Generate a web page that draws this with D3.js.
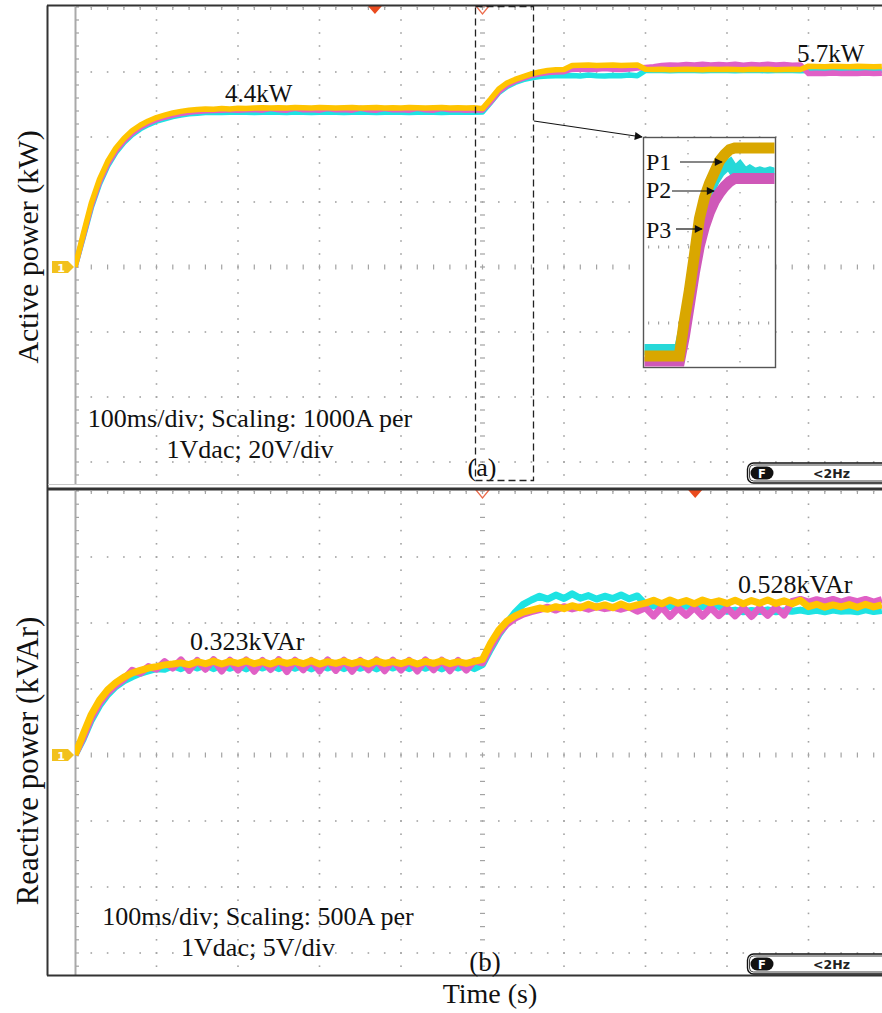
<!DOCTYPE html>
<html>
<head>
<meta charset="utf-8">
<script src="https://cdn.jsdelivr.net/npm/d3@7"></script>
<style>
  html, body { margin: 0; padding: 0; background: #fff; }
  svg { display: block; }
</style>
</head>
<body>
<svg id="chart" width="882" height="1013"></svg>
<script>
// ---- sample times (ms), 100 ms per division ----
const timeMs = [
  0,10,20,30,40,50,60,70,80,90,
  100,110,120,130,140,150,160,170,180,190,
  200,210,220,230,240,250,260,270,280,290,
  300,310,320,330,340,350,360,370,380,390,
  400,410,420,430,440,450,460,470,480,490,
  500,510,520,530,540,550,560,570,580,590,
  600,610,620,630,640,650,660,670,680,690,
  700,710,720,730,740,750,760,770,780,790,
  800,810,820,830,840,850,860,870,880,890,
  900,910,920,930,940,950,960,970,980,990
];

// ---- active power (kW) of the three units ----
const activeP1 = [
  -0.77,0.29,1.31,2.08,2.66,3.09,3.41,3.66,3.84,3.98,
  4.09,4.17,4.24,4.29,4.33,4.35,4.37,4.36,4.38,4.37,
  4.39,4.38,4.40,4.41,4.40,4.41,4.40,4.42,4.41,4.40,
  4.42,4.41,4.40,4.41,4.42,4.40,4.41,4.42,4.40,4.41,
  4.40,4.42,4.41,4.40,4.41,4.42,4.40,4.41,4.40,4.41,
  4.38,4.69,5.02,5.21,5.33,5.42,5.51,5.57,5.62,5.64,
  5.65,5.78,5.79,5.80,5.78,5.79,5.80,5.78,5.79,5.80,
  5.66,5.65,5.66,5.64,5.65,5.66,5.65,5.64,5.66,5.65,
  5.66,5.65,5.64,5.66,5.65,5.66,5.64,5.65,5.66,5.65,
  5.76,5.75,5.74,5.76,5.75,5.74,5.76,5.75,5.74,5.75
];
const activeP2 = [
  -0.77,0.18,1.16,1.93,2.51,2.95,3.28,3.53,3.72,3.86,
  3.97,4.05,4.12,4.17,4.21,4.23,4.25,4.26,4.25,4.26,
  4.27,4.26,4.25,4.26,4.27,4.26,4.25,4.27,4.26,4.25,
  4.26,4.27,4.26,4.25,4.26,4.27,4.26,4.25,4.26,4.27,
  4.26,4.25,4.26,4.27,4.26,4.25,4.26,4.27,4.26,4.26,
  4.27,4.58,4.90,5.10,5.23,5.32,5.38,5.42,5.44,5.45,
  5.45,5.46,5.44,5.47,5.45,5.44,5.46,5.45,5.47,5.45,
  5.62,5.63,5.62,5.61,5.62,5.63,5.62,5.61,5.62,5.63,
  5.62,5.61,5.62,5.63,5.62,5.61,5.62,5.63,5.62,5.61,
  5.62,5.63,5.62,5.61,5.62,5.63,5.62,5.61,5.62,5.63
];
const activeP3 = [
  -0.77,0.22,1.22,1.99,2.57,3.00,3.33,3.58,3.77,3.91,
  4.02,4.10,4.17,4.22,4.26,4.29,4.31,4.32,4.33,4.34,
  4.33,4.34,4.35,4.33,4.38,4.34,4.33,4.39,4.34,4.35,
  4.33,4.38,4.34,4.35,4.33,4.39,4.34,4.33,4.38,4.34,
  4.35,4.33,4.39,4.34,4.33,4.38,4.34,4.35,4.33,4.34,
  4.33,4.60,4.93,5.14,5.27,5.37,5.45,5.51,5.55,5.57,
  5.58,5.66,5.67,5.65,5.66,5.68,5.66,5.65,5.67,5.70,
  5.72,5.74,5.78,5.80,5.79,5.81,5.80,5.82,5.80,5.81,
  5.80,5.82,5.79,5.81,5.80,5.82,5.80,5.81,5.79,5.80,
  5.52,5.53,5.52,5.54,5.52,5.53,5.52,5.54,5.52,5.53
];

// ---- reactive power (kVAr) of the three units ----
const reactiveP1 = [
  0.000,0.072,0.140,0.189,0.225,0.250,0.269,0.283,0.292,0.300,
  0.305,0.311,0.314,0.318,0.312,0.322,0.315,0.324,0.314,0.323,
  0.316,0.325,0.315,0.322,0.314,0.324,0.316,0.323,0.315,0.325,
  0.314,0.322,0.316,0.324,0.315,0.323,0.314,0.325,0.316,0.322,
  0.315,0.324,0.314,0.323,0.316,0.325,0.315,0.322,0.316,0.323,
  0.330,0.386,0.431,0.462,0.480,0.493,0.500,0.507,0.503,0.512,
  0.505,0.515,0.508,0.520,0.510,0.518,0.508,0.521,0.510,0.518,
  0.524,0.534,0.522,0.535,0.524,0.533,0.522,0.535,0.525,0.532,
  0.523,0.534,0.522,0.533,0.524,0.535,0.523,0.532,0.522,0.534,
  0.512,0.520,0.510,0.518,0.511,0.519,0.510,0.520,0.511,0.518
];
const reactiveP2 = [
  0.000,0.055,0.120,0.170,0.208,0.236,0.256,0.270,0.282,0.290,
  0.298,0.296,0.308,0.298,0.312,0.300,0.311,0.298,0.312,0.299,
  0.310,0.297,0.312,0.300,0.311,0.298,0.312,0.299,0.310,0.297,
  0.312,0.300,0.311,0.298,0.312,0.299,0.310,0.297,0.312,0.300,
  0.311,0.298,0.312,0.299,0.310,0.297,0.312,0.300,0.311,0.298,
  0.312,0.365,0.415,0.455,0.492,0.520,0.535,0.548,0.538,0.552,
  0.540,0.556,0.541,0.550,0.538,0.548,0.540,0.552,0.539,0.549,
  0.520,0.514,0.518,0.512,0.517,0.513,0.519,0.512,0.516,0.514,
  0.496,0.500,0.494,0.499,0.495,0.501,0.494,0.498,0.496,0.500,
  0.495,0.499,0.494,0.500,0.496,0.498,0.494,0.501,0.495,0.499
];
const reactiveP3 = [
  0.000,0.060,0.128,0.178,0.215,0.241,0.262,0.292,0.282,0.305,
  0.296,0.322,0.300,0.328,0.292,0.326,0.296,0.329,0.290,0.327,
  0.293,0.328,0.289,0.326,0.295,0.329,0.288,0.327,0.294,0.326,
  0.290,0.328,0.292,0.327,0.289,0.326,0.294,0.328,0.291,0.327,
  0.293,0.326,0.290,0.328,0.294,0.327,0.291,0.326,0.293,0.325,
  0.318,0.372,0.420,0.452,0.472,0.486,0.495,0.502,0.510,0.500,
  0.512,0.504,0.511,0.503,0.512,0.505,0.510,0.503,0.511,0.496,
  0.508,0.480,0.510,0.478,0.507,0.482,0.509,0.479,0.508,0.481,
  0.507,0.480,0.509,0.478,0.508,0.482,0.510,0.483,0.530,0.537,
  0.528,0.536,0.529,0.537,0.528,0.536,0.529,0.537,0.528,0.536
];

// ---- magnified view of the active power step ----
const insetMs = [470,475,480,485,490,495,500,505,510,515,520,525,530,535,540,545,550,555,560,565,570,575,580,585,590,595,600];
const insetP1 = [4.40,4.40,4.40,4.40,4.40,4.40,4.40,4.40,4.62,4.81,5.03,5.26,5.39,5.48,5.55,5.62,5.66,5.69,5.70,5.70,5.70,5.70,5.70,5.70,5.70,5.70,5.70];
const insetP2 = [4.44,4.44,4.44,4.44,4.44,4.44,4.44,4.44,4.58,4.78,4.99,5.20,5.33,5.43,5.50,5.55,5.58,5.60,5.55,5.58,5.54,5.56,5.54,5.55,5.54,5.55,5.54];
const insetP3 = [4.36,4.36,4.36,4.36,4.36,4.36,4.36,4.36,4.52,4.72,4.92,5.09,5.21,5.30,5.37,5.42,5.46,5.49,5.51,5.51,5.51,5.51,5.51,5.51,5.51,5.51,5.51];

// ---- annotations ----
const activeLevels = [4.4, 5.7];
const reactiveLevels = [0.323, 0.528];
const unitNames = ["P1", "P2", "P3"];
const triggerMs = [368, 761];

// ---- drawing ----
const svg = d3.select("#chart");
const W = 882;
const serif = "'Liberation Serif','Times New Roman',serif";
const colors = { P1: "#FFC400", P2: "#1EE3E3", P3: "#E060C6" };
const insetColors = { P1: "#D9A700", P2: "#27D8D8", P3: "#CF58B8" };

const x = d3.scaleLinear().domain([0, 1000]).range([75, 890]);

const panels = [
  { center: 267, divH: 65, top: 7, bottom: 484, frameTop: 5.5, frameBottom: 489,
    y: d3.scaleLinear().domain(activeLevels).range([108, 68]),
    series: { P1: activeP1, P2: activeP2, P3: activeP3 }, width: 5.5 },
  { center: 755, divH: 66, top: 491, bottom: 975, frameTop: 489, frameBottom: 975.5,
    y: d3.scaleLinear().domain([0, reactiveLevels[1]]).range([755, 602]),
    series: { P1: reactiveP1, P2: reactiveP2, P3: reactiveP3 }, width: 7 }
];

const dotColor = "#a3a3a3";

panels.forEach((p, i) => {
  const g = svg.append("g");
  const clipId = "clip" + i;
  svg.append("clipPath").attr("id", clipId).append("rect")
    .attr("x", 75).attr("y", p.top).attr("width", W - 75).attr("height", p.bottom - p.top);
  const div = d3.scaleLinear().domain([-4, 4]).range([p.center + 4 * p.divH, p.center - 4 * p.divH]);
  const inside = v => v >= p.top - 0.5 && v <= p.bottom + 0.5;
  const minorDiv = d3.range(-4, 4.001, 0.2).map(d => div(d)).filter(inside);
  const minorT = d3.range(0, 1001, 20).map(t => x(t)).filter(v => v > 76 && v < W);

  const grid = g.append("g").attr("clip-path", `url(#${clipId})`);
  // vertical graticule lines
  d3.range(100, 1000, 100).forEach(t => {
    const xv = x(t);
    if (t === 500) {
      grid.selectAll(null).data(minorDiv).join("rect")
        .attr("x", xv - 2.5).attr("y", d => d - 0.6).attr("width", 5).attr("height", 1.2)
        .attr("fill", dotColor);
    } else {
      grid.selectAll(null).data(minorDiv).join("rect")
        .attr("x", xv - 0.8).attr("y", d => d - 0.8).attr("width", 1.6).attr("height", 1.6)
        .attr("fill", dotColor);
    }
  });
  // horizontal graticule rows
  d3.range(-4, 5).forEach(d => {
    const yv = div(d);
    if (!inside(yv)) return;
    if (d === 0) {
      grid.selectAll(null).data(minorT).join("rect")
        .attr("x", v => v - 0.6).attr("y", yv - 2.5).attr("width", 1.2).attr("height", 5)
        .attr("fill", dotColor);
    } else {
      grid.selectAll(null).data(minorT).join("rect")
        .attr("x", v => v - 0.8).attr("y", yv - 0.8).attr("width", 1.6).attr("height", 1.6)
        .attr("fill", dotColor);
    }
  });
  // top edge ruler ticks
  grid.selectAll(null).data(minorT).join("rect")
    .attr("x", v => v - 0.6).attr("y", p.top).attr("width", 1.2).attr("height", 3)
    .attr("fill", dotColor);
  // left edge line with ticks
  g.append("line").attr("x1", 75.5).attr("x2", 75.5).attr("y1", p.top).attr("y2", p.bottom)
    .attr("stroke", "#a9a9a9").attr("stroke-width", 2);
  g.selectAll(null).data(minorDiv).join("rect")
    .attr("x", 76).attr("y", d => d - 0.6).attr("width", 3).attr("height", 1.2)
    .attr("fill", dotColor);

  // traces: P2 (cyan), P3 (magenta), then P1 (yellow) on top
  const tr = g.append("g").attr("clip-path", `url(#${clipId})`);
  ["P2", "P3", "P1"].forEach(k => {
    const vals = p.series[k];
    const line = d3.line().x((d, j) => x(timeMs[j])).y(d => p.y(d)).curve(d3.curveLinear);
    tr.append("path").datum(vals).attr("d", line)
      .attr("fill", "none").attr("stroke", colors[k]).attr("stroke-width", p.width)
      .attr("stroke-linejoin", "round");
  });

  // channel 1 ground marker
  const my = p.center;
  g.append("path")
    .attr("d", `M52,${my - 6} H68 L74,${my} L68,${my + 6} H52 Z`)
    .attr("fill", "#F2C11D");
  g.append("text").attr("x", 61).attr("y", my + 4.5).attr("text-anchor", "middle")
    .attr("font-family", "DejaVu Sans, sans-serif").attr("font-weight", "bold")
    .attr("font-size", 11).attr("fill", "#fff").text("1");

  // trigger position (open) and trigger point (filled) markers
  const ty = p.top - 1;
  g.append("path").attr("d", `M${x(500) - 6.5},${ty} L${x(500) + 6.5},${ty} L${x(500)},${ty + 8} Z`)
    .attr("fill", "none").attr("stroke", "#EC6A4A").attr("stroke-width", 1.2);
  const tx = x(triggerMs[i]);
  g.append("path").attr("d", `M${tx - 7},${ty} L${tx + 7},${ty} L${tx},${ty + 8} Z`)
    .attr("fill", "#EA4B1E");

  // filter readout box
  const by = p.bottom - 21;
  g.append("rect").attr("x", 747.5).attr("y", by).attr("width", 160).attr("height", 20).attr("rx", 6)
    .attr("fill", "#fff").attr("stroke", "#111").attr("stroke-width", 1.4);
  g.append("rect").attr("x", 749.5).attr("y", by + 2).attr("width", 160).attr("height", 16).attr("rx", 4)
    .attr("fill", "none").attr("stroke", "#111").attr("stroke-width", 0.8);
  g.append("rect").attr("x", 750.5).attr("y", by + 3.5).attr("width", 23).attr("height", 13).attr("rx", 6.5)
    .attr("fill", "#111");
  g.append("text").attr("x", 762).attr("y", by + 14.5).attr("text-anchor", "middle")
    .attr("font-family", "DejaVu Sans, sans-serif").attr("font-weight", "bold")
    .attr("font-size", 11.5).attr("fill", "#fff").text("F");
  g.append("text").attr("x", 813).attr("y", by + 15).attr("font-family", "DejaVu Sans, sans-serif")
    .attr("font-weight", "bold").attr("font-size", 12.5).attr("fill", "#222").text("<2Hz");

  // frame
  g.append("line").attr("x1", 47.5).attr("x2", 47.5).attr("y1", p.frameTop).attr("y2", p.frameBottom)
    .attr("stroke", "#333").attr("stroke-width", 2);
  g.append("line").attr("x1", 47).attr("x2", W).attr("y1", p.frameTop).attr("y2", p.frameTop)
    .attr("stroke", "#333").attr("stroke-width", i === 0 ? 2 : 3);
  g.append("line").attr("x1", 47).attr("x2", W).attr("y1", p.frameBottom).attr("y2", p.frameBottom)
    .attr("stroke", "#333").attr("stroke-width", 2);
});
// light lower edge of the upper graticule
svg.append("line").attr("x1", 48).attr("x2", W).attr("y1", 484.5).attr("y2", 484.5)
  .attr("stroke", "#c8c8c8").attr("stroke-width", 1);

// ---- text annotations ----
function label(txt, xx, yy, size, anchor) {
  return svg.append("text").attr("x", xx).attr("y", yy).attr("font-family", serif)
    .attr("font-size", size).attr("text-anchor", anchor || "start").attr("fill", "#111").text(txt);
}
label(activeLevels[0] + "kW", 225, 102, 25);
label(activeLevels[1] + "kW", 797, 62, 25);
label(reactiveLevels[0] + "kVAr", 190, 650, 26);
label(reactiveLevels[1] + "kVAr", 738, 593, 26);
label("100ms/div; Scaling: 1000A per", 250, 427, 26, "middle");
label("1Vdac; 20V/div", 250, 458, 26, "middle");
label("(a)", 482, 476, 26, "middle");
label("100ms/div; Scaling: 500A per", 258, 925, 26, "middle");
label("1Vdac; 5V/div", 258, 956, 26, "middle");
label("(b)", 485, 971, 27, "middle");
label("Time (s)", 490, 1003, 28, "middle");
svg.append("text").attr("transform", "translate(38,247) rotate(-90)")
  .attr("font-family", serif).attr("font-size", 30).attr("text-anchor", "middle").attr("fill", "#111")
  .text("Active power (kW)");
svg.append("text").attr("transform", "translate(38,761) rotate(-90)")
  .attr("font-family", serif).attr("font-size", 31).attr("text-anchor", "middle").attr("fill", "#111")
  .text("Reactive power (kVAr)");

// ---- zoom window around the active power step ----
svg.append("rect").attr("x", 475.5).attr("y", 6.5).attr("width", 58).attr("height", 474)
  .attr("fill", "none").attr("stroke", "#222").attr("stroke-width", 1.3).attr("stroke-dasharray", "7,4");

const defs = svg.append("defs");
defs.append("marker").attr("id", "arrow").attr("viewBox", "0 0 10 10").attr("refX", 9).attr("refY", 5)
  .attr("markerWidth", 10).attr("markerHeight", 8).attr("markerUnits", "userSpaceOnUse").attr("orient", "auto")
  .append("path").attr("d", "M0,0 L10,5 L0,10 Z").attr("fill", "#111");

svg.append("line").attr("x1", 534).attr("y1", 121).attr("x2", 642).attr("y2", 137)
  .attr("stroke", "#111").attr("stroke-width", 1.2).attr("marker-end", "url(#arrow)");

// inset panel
const ix = d3.scaleLinear().domain([470, 600]).range([644, 775]);
const iy = d3.scaleLinear().domain(activeLevels).range([356, 148]);
const inset = svg.append("g");
inset.append("rect").attr("x", 643.5).attr("y", 137.5).attr("width", 132).attr("height", 230)
  .attr("fill", "#fff").attr("stroke", "#555").attr("stroke-width", 1.4);
svg.append("clipPath").attr("id", "clipInset").append("rect")
  .attr("x", 644.5).attr("y", 138.5).attr("width", 130).attr("height", 228);
const ig = inset.append("g").attr("clip-path", "url(#clipInset)");
// inset graticule
[688, 740].forEach(xv => {
  ig.selectAll(null).data(d3.range(140, 368, 13)).join("rect")
    .attr("x", xv - 0.7).attr("y", d => d).attr("width", 1.4).attr("height", 1.4).attr("fill", dotColor);
});
[247, 323].forEach(yv => {
  ig.selectAll(null).data(d3.range(648, 775, 10)).join("rect")
    .attr("x", d => d).attr("y", yv - 1.5).attr("width", 1.2).attr("height", 3).attr("fill", dotColor);
});
const insetSeries = { P1: insetP1, P2: insetP2, P3: insetP3 };
["P2", "P3", "P1"].forEach(k => {
  const line = d3.line().x((d, j) => ix(insetMs[j])).y(d => iy(d)).curve(d3.curveLinear);
  ig.append("path").datum(insetSeries[k]).attr("d", line)
    .attr("fill", "none").attr("stroke", insetColors[k]).attr("stroke-width", 11)
    .attr("stroke-linejoin", "miter");
});
// unit labels with pointers
const pointerPos = [
  { tx: 646, ty: 170, x1: 680, y1: 162, x2: 722, y2: 162 },
  { tx: 646, ty: 198, x1: 672, y1: 191, x2: 714, y2: 191 },
  { tx: 646, ty: 238, x1: 676, y1: 229, x2: 702, y2: 229 }
];
unitNames.forEach((n, j) => {
  const pp = pointerPos[j];
  svg.append("text").attr("x", pp.tx).attr("y", pp.ty).attr("font-family", serif)
    .attr("font-size", 24).attr("fill", "#111").text(n);
  svg.append("line").attr("x1", pp.x1).attr("y1", pp.y1).attr("x2", pp.x2).attr("y2", pp.y2)
    .attr("stroke", "#111").attr("stroke-width", 1.2).attr("marker-end", "url(#arrow)");
});
</script>
</body>
</html>
